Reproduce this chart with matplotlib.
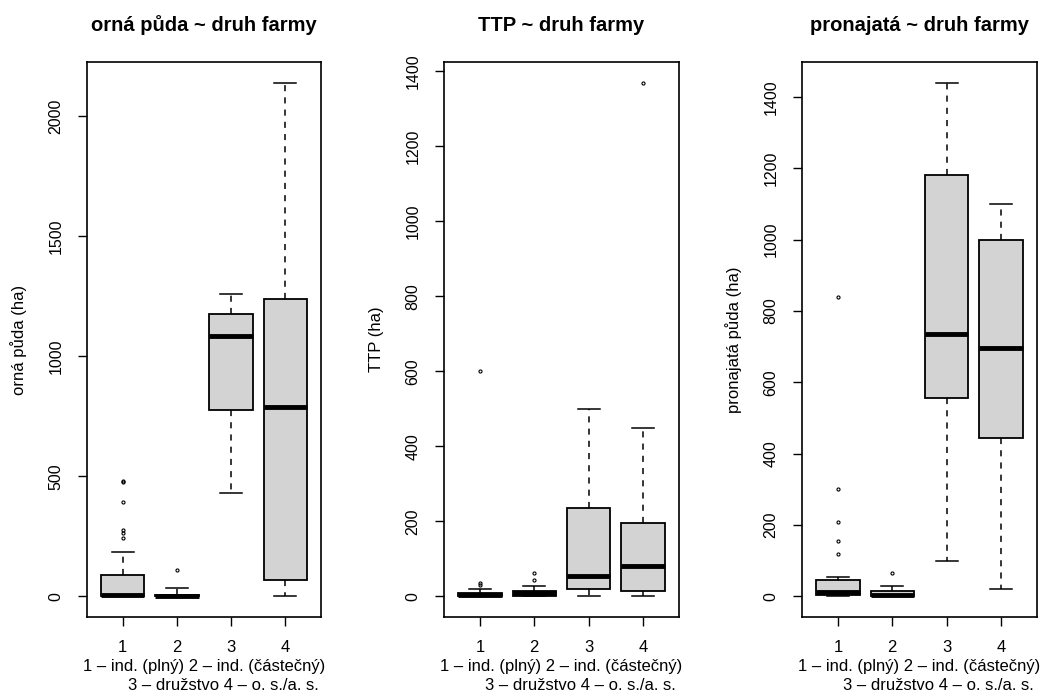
import matplotlib
matplotlib.use("Agg")
from matplotlib import pyplot as plt

plt.rcParams['font.family'] = ['Liberation Sans', 'DejaVu Sans']

#####################################################################
# Boxploty: orná půda, TTP a pronajatá půda podle druhu farmy
#####################################################################

groups = ["1", "2", "3", "4"]

# orná půda (ha)
orna_q1 = [0, 0, 775, 70]
orna_med = [5, 0, 1085, 790]
orna_q3 = [88, 5, 1175, 1240]
orna_wlo = [0, 0, 430, 0]
orna_whi = [185, 35, 1260, 2140]
orna_out = [[245, 265, 275, 395, 475, 482], [112], [], []]

# TTP (ha)
ttp_q1 = [0, 0, 20, 15]
ttp_med = [3, 8, 55, 80]
ttp_q3 = [8, 15, 235, 195]
ttp_wlo = [0, 0, 0, 0]
ttp_whi = [20, 28, 500, 450]
ttp_out = [[30, 36, 600], [45, 62], [], [1370]]

# pronajatá půda (ha)
pron_q1 = [3, 0, 555, 445]
pron_med = [12, 5, 735, 695]
pron_q3 = [45, 15, 1180, 1000]
pron_wlo = [0, 0, 100, 20]
pron_whi = [55, 30, 1440, 1100]
pron_out = [[120, 155, 210, 300, 840], [65], [], []]

panels = [
    ("orná půda ~ druh farmy", "orná půda (ha)", orna_q1, orna_med, orna_q3, orna_wlo, orna_whi, orna_out,
     [0, 500, 1000, 1500, 2000], (87, 321)),
    ("TTP ~ druh farmy", "TTP (ha)", ttp_q1, ttp_med, ttp_q3, ttp_wlo, ttp_whi, ttp_out,
     [0, 200, 400, 600, 800, 1000, 1200, 1400], (444, 679)),
    ("pronajatá ~ druh farmy", "pronajatá půda (ha)", pron_q1, pron_med, pron_q3, pron_wlo, pron_whi, pron_out,
     [0, 200, 400, 600, 800, 1000, 1200, 1400], (802, 1037)),
]

W, H = 1042, 693
fig = plt.figure(figsize=(W / 100, H / 100), dpi=100)
top, bottom = 62, 617

for title, ylab, q1, med, q3, wlo, whi, out, yt, (x0, x1) in panels:
    ax = fig.add_axes([x0 / W, 1 - bottom / H, (x1 - x0) / W, (bottom - top) / H])
    stats = []
    for i in range(4):
        stats.append(dict(q1=q1[i], med=med[i], q3=q3[i], whislo=wlo[i], whishi=whi[i], fliers=out[i]))
    ax.bxp(stats, positions=[1, 2, 3, 4], widths=0.8, capwidths=0.4, patch_artist=True,
           boxprops=dict(facecolor="#d3d3d3", edgecolor="black", linewidth=1.3),
           medianprops=dict(color="black", linewidth=3.5, solid_capstyle="butt"),
           whiskerprops=dict(color="black", linewidth=1.1, linestyle=(0, (4, 4))),
           capprops=dict(color="black", linewidth=1.1),
           flierprops=dict(marker="o", markersize=2.2, markerfacecolor="none",
                           markeredgecolor="black", markeredgewidth=0.8))
    # rozsah jako v R (4 %)
    allv = wlo + whi + [v for o in out for v in o]
    lo, hi = min(allv), max(allv)
    pad = (hi - lo) * 0.04
    ax.set_ylim(lo - pad, hi + pad)
    ax.set_xlim(0.34, 4.66)
    ax.set_yticks(yt)
    ax.set_yticklabels([str(v) for v in yt], rotation=90, va="center", fontsize=11.5)
    ax.set_xticks([1, 2, 3, 4])
    ax.set_xticklabels(groups, fontsize=12)
    ax.tick_params(axis="y", direction="out", length=6.5, width=1, pad=10.5)
    ax.tick_params(axis="x", direction="out", length=6.5, width=1, pad=10)
    for s in ax.spines.values():
        s.set_linewidth(1.2)
    ax.set_ylabel(ylab, fontsize=12)
    ax.yaxis.set_label_coords(-60 / (x1 - x0), 0.5)
    ax.set_title(title, fontsize=14.5, fontweight="bold", pad=22)
    cx = (x0 + x1) / 2
    fig.text(cx / W, 1 - 667 / H, "1 – ind. (plný) 2 – ind. (částečný)", ha="center", va="center", fontsize=12)
    fig.text((cx + 19) / W, 1 - 685 / H, "3 – družstvo 4 – o. s./a. s.", ha="center", va="center", fontsize=12)

plt.savefig("out.png", dpi=100)
